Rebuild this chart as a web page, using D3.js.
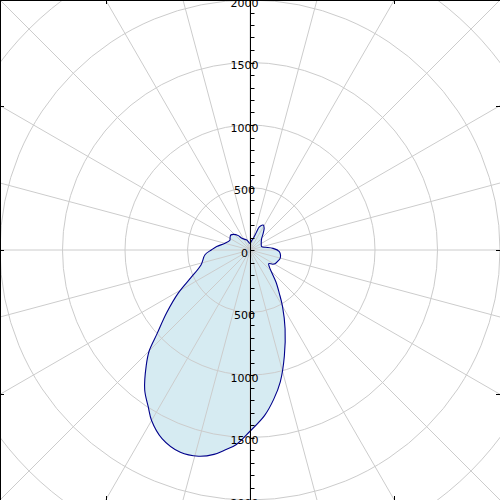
<!DOCTYPE html>
<html>
<head>
<meta charset="utf-8">
<script src="https://cdn.jsdelivr.net/npm/d3@7"></script>
<style>
  body { margin: 0; background: #fff; }
  svg { display: block; }
</style>
</head>
<body>
<div id="chart"></div>
<script>
// bearing in degrees, clockwise from north
const angles = [0, 10, 16, 20, 22, 28, 33, 40, 45, 60, 74, 80, 86, 93, 100, 106, 112, 118, 122, 126,
  131, 136, 141, 146, 150, 156, 162, 167, 171, 175, 180, 184, 187, 190, 194, 199, 205, 210, 213, 217,
  222, 225, 228, 233, 239, 245, 253, 264, 270, 276, 285, 296, 302, 308, 313, 321, 325, 342];
const values = [53, 76, 98, 156, 200, 226, 208, 160, 132, 104, 97, 125, 185, 235, 248, 250, 240, 230, 215, 185,
  205, 250, 330, 420, 520, 690, 890, 1080, 1210, 1330, 1450, 1560, 1610, 1660, 1700, 1712, 1665, 1575, 1495, 1400,
  1240, 1140, 1000, 835, 670, 520, 410, 362, 310, 268, 207, 179, 188, 195, 183, 148, 114, 84];
const ringValues = [500, 1000, 1500, 2000, 2500];
const tickLabels = [0, 500, 1000, 1500, 2000];

const width = 500;
const height = 500;
const cx = width / 2;
const cy = height / 2;

const r = d3.scaleLinear().domain([0, 2000]).range([0, 250]);
const y = d3.scaleLinear().domain([-2000, 2000]).range([height, 0]);

const svg = d3.select('#chart')
  .append('svg')
  .attr('width', width)
  .attr('height', height);

const g = svg.append('g')
  .attr('transform', `translate(${cx}, ${cy})`);

// filled shape
const data = angles.map((a, i) => ({ a: a, v: values[i] }));
const line = d3.lineRadial()
  .angle(d => d.a * Math.PI / 180)
  .radius(d => r(d.v))
  .curve(d3.curveCatmullRomClosed.alpha(0.5));

g.append('path')
  .datum(data)
  .attr('d', line)
  .attr('fill', '#add8e6')
  .attr('fill-opacity', 0.5)
  .attr('stroke', 'none');

// grid
const grid = g.append('g')
  .attr('stroke', '#cccccc')
  .attr('stroke-width', 1)
  .attr('fill', 'none');

grid.selectAll('circle')
  .data(ringValues)
  .enter()
  .append('circle')
  .attr('r', d => r(d));

grid.selectAll('line')
  .data(d3.range(0, 360, 15))
  .enter()
  .append('line')
  .attr('x1', 0)
  .attr('y1', 0)
  .attr('x2', d => 400 * Math.sin(d * Math.PI / 180))
  .attr('y2', d => -400 * Math.cos(d * Math.PI / 180));

// outline
g.append('path')
  .datum(data)
  .attr('d', line)
  .attr('fill', 'none')
  .attr('stroke', '#00008b')
  .attr('stroke-width', 1.1);

// vertical axis with minor ticks
const axisG = svg.append('g')
  .attr('transform', `translate(${cx + 0.5}, 0)`);
axisG.append('line')
  .attr('y1', 0).attr('y2', height)
  .attr('stroke', '#000').attr('stroke-width', 1);
axisG.selectAll('.tk')
  .data(d3.range(-2000, 2001, 100))
  .enter()
  .append('line')
  .attr('class', 'tk')
  .attr('x1', 0).attr('x2', 4)
  .attr('y1', d => Math.round(y(d)) + 0.5)
  .attr('y2', d => Math.round(y(d)) + 0.5)
  .attr('stroke', '#000');

// labels, above and below
const labelData = tickLabels.map(d => ({ v: d, s: 1 }))
  .concat(tickLabels.filter(d => d > 0).map(d => ({ v: d, s: -1 })));
svg.selectAll('.lbl')
  .data(labelData)
  .enter()
  .append('text')
  .attr('class', 'lbl')
  .attr('x', cx - 5.5)
  .attr('y', d => y(d.v * d.s) + 3)
  .attr('dy', '0.36em')
  .attr('text-anchor', 'middle')
  .style('font-family', 'DejaVu Sans, sans-serif')
  .style('font-size', '11px')
  .style('fill', '#000')
  .text(d => d.v);

// frame
svg.append('rect')
  .attr('x', 0.5).attr('y', 0.5)
  .attr('width', width).attr('height', height)
  .attr('fill', 'none').attr('stroke', '#000');

const frameTicks = [106, 250, 394];
frameTicks.forEach(p => {
  svg.append('line').attr('x1', p + 0.5).attr('x2', p + 0.5).attr('y1', 0).attr('y2', 4).attr('stroke', '#000');
  svg.append('line').attr('x1', p + 0.5).attr('x2', p + 0.5).attr('y1', height - 4).attr('y2', height).attr('stroke', '#000');
  svg.append('line').attr('y1', p + 0.5).attr('y2', p + 0.5).attr('x1', 0).attr('x2', 4).attr('stroke', '#000');
  svg.append('line').attr('y1', p + 0.5).attr('y2', p + 0.5).attr('x1', width - 4).attr('x2', width).attr('stroke', '#000');
});
</script>
</body>
</html>
